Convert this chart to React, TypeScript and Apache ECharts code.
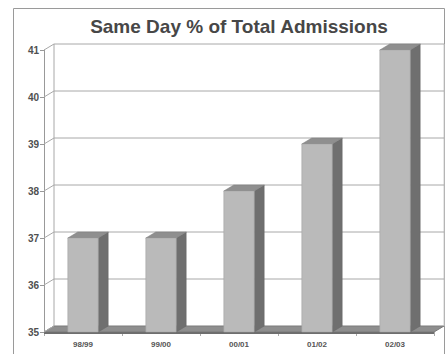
import React, { useEffect, useRef } from "react";
import * as echarts from "echarts";

const categories = ["98/99", "99/00", "00/01", "01/02", "02/03"];
const sameDayPct = [37, 37, 38, 39, 41];
const yTicks = [35, 36, 37, 38, 39, 40, 41];
const titleText = "Same Day % of Total Admissions";

const DX = 10;
const DY = -6;

export default function App() {
  const ref = useRef<HTMLDivElement>(null);
  useEffect(() => {
    if (!ref.current) return;
    const chart = echarts.init(ref.current, undefined, { renderer: "svg" });
    const option: any = {
      animation: false,
      backgroundColor: "#ffffff",
      graphic: [
        {
          type: "rect",
          shape: { x: 13.5, y: 8.5, width: 431, height: 360 },
          style: { fill: "none", stroke: "#9a9a9a", lineWidth: 1 },
          z: 0,
        },
        {
          type: "text",
          x: 239,
          y: 26,
          style: {
            text: titleText,
            fill: "#474747",
            font: "bold 19px 'Liberation Sans', Arial, sans-serif",
            align: "center",
            verticalAlign: "middle",
          },
        },
      ],
      grid: { left: 44, top: 50, width: 390, height: 282 },
      xAxis: {
        type: "category",
        data: categories,
        axisLine: { show: false },
        axisTick: { show: true, length: 4, lineStyle: { color: "#aaa" } },
        axisLabel: {
          fontSize: 8,
          color: "#555",
          fontWeight: "bold",
          fontFamily: "'Liberation Sans', Arial, sans-serif",
          margin: 8,
        },
        splitLine: { show: false },
      },
      yAxis: {
        type: "value",
        min: 35,
        max: 41,
        interval: 1,
        axisLine: { show: true, lineStyle: { color: "#999" } },
        axisTick: { show: true, length: 4, lineStyle: { color: "#999" } },
        axisLabel: {
          fontSize: 10,
          color: "#505050",
          fontWeight: "bold",
          fontFamily: "'Liberation Sans', Arial, sans-serif",
          margin: 5,
        },
        splitLine: { show: false },
      },
      series: [
        {
          type: "custom",
          z: 1,
          silent: true,
          data: yTicks.map((v) => [0, v]),
          renderItem: (params: any, api: any) => {
            const v = api.value(1);
            const cs = params.coordSys;
            const y = api.coord([0, v])[1];
            const x0 = cs.x;
            const x1 = cs.x + cs.width;
            const children: any[] = [];
            const lineStyle = { stroke: "#a8a8a8", lineWidth: 1 };
            if (v === 35) {
              children.push({
                type: "polygon",
                shape: {
                  points: [
                    [x0, y],
                    [x1, y],
                    [x1 + DX, y + DY],
                    [x0 + DX, y + DY],
                  ],
                },
                style: { fill: "#8e8e8e", stroke: "#7a7a7a", lineWidth: 1 },
              });
              children.push({
                type: "rect",
                shape: { x: x0, y: y, width: x1 - x0, height: 2 },
                style: { fill: "#6e6e6e" },
              });
              const yTop = api.coord([0, 41])[1];
              children.push({
                type: "line",
                shape: { x1: x0 + DX, y1: yTop + DY, x2: x0 + DX, y2: y + DY },
                style: lineStyle,
              });
              children.push({
                type: "line",
                shape: { x1: x1 + DX, y1: yTop + DY, x2: x1 + DX, y2: y + DY },
                style: { stroke: "#cfcfcf", lineWidth: 1 },
              });
            } else {
              children.push({
                type: "line",
                shape: { x1: x0 + DX, y1: y + DY, x2: x1 + DX, y2: y + DY },
                style: lineStyle,
              });
            }
            children.push({
              type: "line",
              shape: { x1: x0, y1: y, x2: x0 + DX, y2: y + DY },
              style: lineStyle,
            });
            return { type: "group", children };
          },
        },
        {
          type: "custom",
          z: 2,
          data: sameDayPct.map((v, i) => [i, v]),
          renderItem: (params: any, api: any) => {
            const idx = api.value(0);
            const v = api.value(1);
            const top = api.coord([idx, v]);
            const bottom = api.coord([idx, 35]);
            const band = api.size([1, 0])[0];
            const half = band * 0.195;
            const xl = top[0] - half;
            const xr = top[0] + half;
            const yt = top[1];
            const yb = bottom[1];
            return {
              type: "group",
              children: [
                {
                  type: "polygon",
                  shape: {
                    points: [
                      [xr, yt],
                      [xr + DX, yt + DY],
                      [xr + DX, yb + DY],
                      [xr, yb],
                    ],
                  },
                  style: { fill: "#6f6f6f", stroke: "#666", lineWidth: 0.5 },
                },
                {
                  type: "polygon",
                  shape: {
                    points: [
                      [xl, yt],
                      [xl + DX, yt + DY],
                      [xr + DX, yt + DY],
                      [xr, yt],
                    ],
                  },
                  style: { fill: "#8f8f8f", stroke: "#7d7d7d", lineWidth: 0.5 },
                },
                {
                  type: "rect",
                  shape: { x: xl, y: yt, width: xr - xl, height: yb - yt },
                  style: { fill: "#bababa", stroke: "#a0a0a0", lineWidth: 0.5 },
                },
              ],
            };
          },
        },
      ],
    };
    chart.setOption(option);
    return () => chart.dispose();
  }, []);
  return (
    <div
      ref={ref}
      style={{ position: "fixed", left: 0, top: 0, width: 446, height: 354 }}
    />
  );
}
